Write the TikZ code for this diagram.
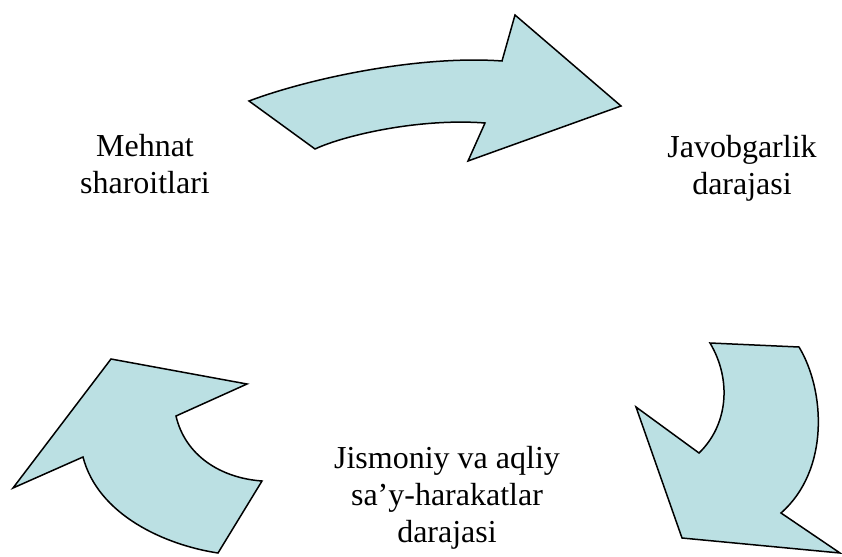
\documentclass[tikz,border=0pt]{standalone}
\usepackage{fontspec}
\setmainfont{Liberation Serif}
\definecolor{arrowfill}{RGB}{187,224,227}
\begin{document}
\begin{tikzpicture}[x=1pt,y=-1pt,
  arrowshape/.style={fill=arrowfill,draw=black,line width=1.5pt,line join=miter},
  lbl/.style={font=\fontsize{32}{37}\selectfont,align=center,inner sep=0pt}]
\useasboundingbox (0,0) rectangle (842,556);
% top arrow
\draw[arrowshape] (249,101) .. controls (310,78) and (420,55) .. (502,61)
  -- (515,15) -- (621,106) -- (468,161) -- (485,123)
  .. controls (420,118) and (345,135) .. (315,149) -- cycle;
% right arrow
\draw[arrowshape] (710,343) -- (799,347)
  .. controls (825,390) and (830,470) .. (781,513)
  -- (840,553) -- (682,538) -- (636,407) -- (699,453)
  .. controls (728,425) and (732,380) .. (710,343) -- cycle;
% left arrow
\draw[arrowshape] (111,359) -- (247,384) -- (176,416)
  .. controls (185,455) and (220,478) .. (262,481)
  -- (218,553) .. controls (165,545) and (98,515) .. (83,457)
  -- (13,488) -- cycle;
\node[lbl] (mehnat) at (145,164.5) {Mehnat\\sharoitlari};
\node[lbl] (javob) at (742,168) {Javobgarlik\\darajasi};
\node[lbl] (jism) at (447,497.5) {Jismoniy va aqliy\\sa’y-harakatlar\\darajasi};
\end{tikzpicture}
\end{document}
